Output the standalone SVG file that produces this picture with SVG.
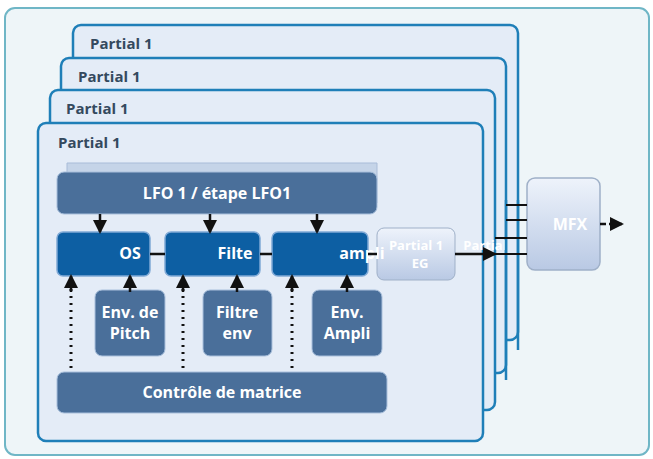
<svg xmlns="http://www.w3.org/2000/svg" width="653" height="459" viewBox="0 0 653 459">
<style>
.p{fill:#e4ecf7;stroke:#1f7fb8;stroke-width:2.5}
.lbl{font-family:"Open Sans","Liberation Sans",sans-serif;font-weight:bold;font-size:15px;fill:#34495e}
.dk{fill:#4a6f9a;stroke:#a9c0dc;stroke-width:1}
.bl{fill:#0d5fa3;stroke:#7fa9d6;stroke-width:1.5}
.wt{font-family:"Open Sans","Liberation Sans",sans-serif;font-weight:bold;font-size:16px;fill:#fff;text-anchor:middle}
.ln{stroke:#111;stroke-width:2.5;fill:none}
.dot{stroke:#111;stroke-width:3;stroke-dasharray:2 5;fill:none}
</style>
<defs>
<marker id="a" markerUnits="userSpaceOnUse" markerWidth="14" markerHeight="14" refX="12" refY="7" orient="auto"><path d="M0,0L14,7L0,14z" fill="#111"/></marker>
<marker id="s" markerUnits="userSpaceOnUse" markerWidth="10" markerHeight="10" refX="8" refY="5" orient="auto"><path d="M0,0L10,5L0,10z" fill="#111"/></marker>
<linearGradient id="g" x1="0" y1="0" x2="0" y2="1"><stop offset="0" stop-color="#eef3fb"/><stop offset="1" stop-color="#b9c9e4"/></linearGradient>
</defs>
<rect x="5" y="8" width="644" height="447" rx="10" fill="#eef5f8" stroke="#6fb6c6" stroke-width="2"/>
<g id="partial4"><rect class="p" x="73" y="25" width="445" height="315" rx="8"/><text class="lbl" x="90" y="49">Partial 1</text></g>
<g id="partial3"><rect class="p" x="61" y="58" width="445" height="315" rx="8"/><text class="lbl" x="78" y="82">Partial 1</text></g>
<g id="partial2"><rect class="p" x="50" y="90" width="445" height="320" rx="8"/><text class="lbl" x="66" y="114">Partial 1</text></g>
<g id="partial1"><rect class="p" x="38" y="123" width="445" height="318" rx="8"/><text class="lbl" x="58" y="148">Partial 1</text></g>
<g id="lfo"><path d="M67,163h310v40h-310z" fill="#c5d4e8" stroke="#a9bcd8"/><rect class="dk" x="57" y="172" width="320" height="42" rx="7"/><text class="wt" x="217" y="199">LFO 1 / étape LFO1</text></g>
<g id="osc"><rect class="bl" x="57" y="232" width="93" height="44" rx="6"/><text class="wt" x="130" y="259">OS</text></g>
<g id="filter"><rect class="bl" x="165" y="232" width="95" height="44" rx="6"/><text class="wt" x="235" y="259">Filte</text></g>
<g id="amp"><rect class="bl" x="272" y="232" width="96" height="44" rx="6"/></g>
<g id="eg"><rect x="377" y="228" width="78" height="52" rx="7" fill="url(#g)" stroke="#9fb0c8"/><text class="wt" x="416" y="250" style="font-size:13px">Partial 1</text><text class="wt" x="420" y="268" style="font-size:13px">EG</text><text class="wt" x="485" y="250" style="font-size:13px">Partial</text></g>
<text class="wt" x="362" y="259">ampli</text>
<g id="envpitch"><rect class="dk" x="95" y="290" width="70" height="66" rx="7"/><text class="wt" x="130" y="318">Env. de</text><text class="wt" x="130" y="339">Pitch</text></g>
<g id="envfilt"><rect class="dk" x="203" y="290" width="69" height="66" rx="7"/><text class="wt" x="237" y="318">Filtre</text><text class="wt" x="237" y="339">env</text></g>
<g id="envamp"><rect class="dk" x="312" y="290" width="70" height="66" rx="7"/><text class="wt" x="347" y="318">Env.</text><text class="wt" x="347" y="339">Ampli</text></g>
<g id="matrix"><rect class="dk" x="57" y="372" width="330" height="41" rx="7"/><text class="wt" x="222" y="398">Contrôle de matrice</text></g>
<g id="mfx"><rect x="527" y="178" width="73" height="92" rx="8" fill="url(#g)" stroke="#9fb0c8" stroke-width="1.5"/><text class="wt" x="570" y="230">MFX</text></g>
<g id="connectors">
<path class="ln" d="M100,214v18" marker-end="url(#a)"/>
<path class="ln" d="M210,214v18" marker-end="url(#a)"/>
<path class="ln" d="M317,214v18" marker-end="url(#a)"/>
<path class="ln" d="M150,254h15M260,254h12M368,254h9"/>
<path class="ln" d="M455,254h40" marker-end="url(#a)"/>
<path class="dot" d="M71,368v-82M183,368v-82M292,368v-82"/>
<path class="ln" d="M71,292v-16" marker-end="url(#a)"/>
<path class="ln" d="M183,292v-16" marker-end="url(#a)"/>
<path class="ln" d="M292,292v-16" marker-end="url(#a)"/>
<path class="ln" d="M130,292v-16" marker-end="url(#a)"/>
<path class="ln" d="M237,292v-16" marker-end="url(#a)"/>
<path class="ln" d="M347,292v-16" marker-end="url(#a)"/>
<path d="M506,200v180M518,200v150" stroke="#1f7fb8" stroke-width="2.5"/>
<path class="ln" d="M506,205h21M506,220h21M495,238h32M495,254h32" style="stroke-width:2"/>
<path class="ln" d="M600,224h22" style="stroke-dasharray:6 3" marker-end="url(#a)"/>
</g>
</svg>
